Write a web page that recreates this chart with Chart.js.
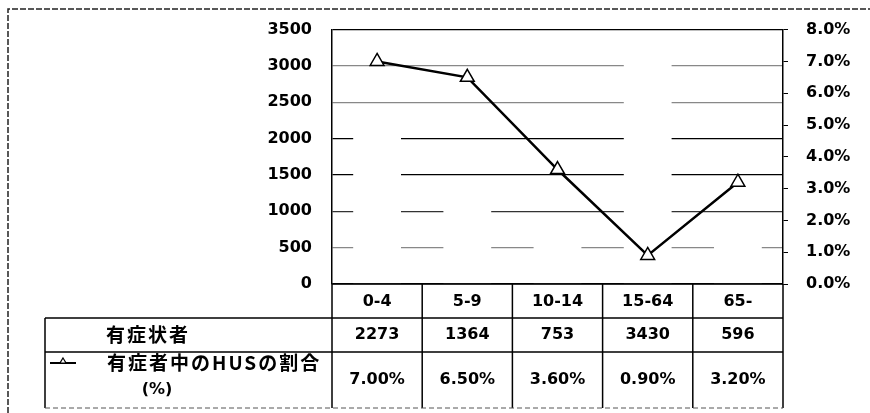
<!DOCTYPE html>
<html>
<head>
<meta charset="utf-8">
<script src="https://cdn.jsdelivr.net/npm/chart.js@4"></script>
<style>
  body { margin: 0; background: #fff; }
  #wrap { width: 870px; height: 413px; }
</style>
</head>
<body>
<div id="wrap"><canvas id="graphCanvas" width="870" height="413"></canvas></div>
<script>
// data
const ageGroups = ['0-4', '5-9', '10-14', '15-64', '65-'];
const patients = [2273, 1364, 753, 3430, 596];
const husRate = [0.07, 0.065, 0.036, 0.009, 0.032];
const patientLabel = '有症状者';
const rateLabel = '有症者中のHUSの割合';
const rateUnit = '(%)';

const numFont = { family: 'DejaVu Sans', size: 16, weight: 'bold' };
const cellFont = 'bold 16px "DejaVu Sans"';
const cjkFont = 'bold 19px "Noto Sans CJK JP"';

// grid colours vary a lot in the scan, keep roughly the same look
function gridColor(c) {
    let v = c.tick ? c.tick.value : 0;
    if (v === 3500 || v === 2000 || v === 1500 || v === 0) return '#000';
    if (v === 1000) return '#333';
    return '#888';
}

// data table under the plot + outer frame
const tablePlugin = {
    id: 'dataTable',
    afterDraw(chart) {
        let ctx = chart.ctx;
        let area = chart.chartArea;
        let xs = chart.scales.x;
        let left = area.left, right = area.right;
        let rowTop = area.bottom, row1 = 318, row2 = 352, rowBottom = 408;
        let labelLeft = 45;
        let step = (right - left) / ageGroups.length;

        ctx.save();
        ctx.strokeStyle = '#000';
        ctx.lineWidth = 1.5;

        ctx.beginPath();
        // horizontal lines
        ctx.moveTo(left, rowTop); ctx.lineTo(right, rowTop);
        ctx.moveTo(labelLeft, row1); ctx.lineTo(right, row1);
        ctx.moveTo(labelLeft, row2); ctx.lineTo(right, row2);
        // vertical lines
        ctx.moveTo(labelLeft, row1); ctx.lineTo(labelLeft, rowBottom);
        for (let i = 0; i <= ageGroups.length; i++) {
            let x = left + step * i;
            ctx.moveTo(x, rowTop); ctx.lineTo(x, rowBottom);
        }
        ctx.stroke();
        // bottom edge is faint in the scan
        ctx.save();
        ctx.strokeStyle = '#555';
        ctx.lineWidth = 1;
        ctx.setLineDash([5, 3]);
        ctx.beginPath();
        ctx.moveTo(labelLeft, rowBottom); ctx.lineTo(right, rowBottom);
        ctx.stroke();
        ctx.restore();

        // cell texts
        ctx.fillStyle = '#000';
        ctx.textAlign = 'center';
        ctx.textBaseline = 'middle';
        ctx.font = cellFont;
        ageGroups.forEach((g, i) => {
            let x = xs.getPixelForValue(i);
            ctx.fillText(g, x, (rowTop + row1) / 2 + 1);
            ctx.fillText(String(patients[i]), x, (row1 + row2) / 2);
            ctx.fillText((husRate[i] * 100).toFixed(2) + '%', x, (row2 + rowBottom) / 2);
        });

        // row labels
        ctx.font = cjkFont;
        ctx.letterSpacing = '2px';
        ctx.fillText(patientLabel, 148, (row1 + row2) / 2);
        ctx.textAlign = 'left';
        ctx.fillText(rateLabel, 107, 363);
        ctx.textAlign = 'center';
        ctx.letterSpacing = '0px';
        ctx.font = cellFont;
        ctx.fillText(rateUnit, 157, 390);

        // legend key: line with small triangle
        ctx.lineWidth = 2;
        ctx.beginPath();
        ctx.moveTo(50, 363); ctx.lineTo(76, 363);
        ctx.stroke();
        ctx.fillStyle = '#fff';
        ctx.lineWidth = 1.2;
        ctx.beginPath();
        ctx.moveTo(63, 358); ctx.lineTo(66, 363); ctx.lineTo(60, 363); ctx.closePath();
        ctx.fill(); ctx.stroke();

        // outer frame of the whole figure
        ctx.strokeStyle = '#222';
        ctx.lineWidth = 1.5;
        ctx.setLineDash([6, 2]);
        ctx.beginPath();
        ctx.moveTo(8, 413); ctx.lineTo(8, 9); ctx.lineTo(870, 9);
        ctx.stroke();
        ctx.restore();
    }
};

let ctx = document.getElementById('graphCanvas').getContext('2d');
let chart = new Chart(ctx, {
    data: {
        labels: ageGroups,
        datasets: [{
            type: 'line',
            label: rateLabel,
            data: husRate,
            yAxisID: 'y1',
            borderColor: '#000',
            borderWidth: 2.5,
            pointStyle: 'triangle',
            pointRadius: 8,
            pointBackgroundColor: '#fff',
            pointBorderColor: '#000',
            pointBorderWidth: 1.5,
            tension: 0,
            order: 0
        }, {
            type: 'bar',
            label: patientLabel,
            data: patients,
            yAxisID: 'y',
            backgroundColor: '#fff',
            borderWidth: 0,
            barPercentage: 0.53,
            categoryPercentage: 1,
            order: 1
        }]
    },
    options: {
        responsive: false,
        animation: false,
        layout: { padding: { left: 0, right: 0, top: 29, bottom: 129 } },
        plugins: {
            legend: { display: false },
            tooltip: { enabled: false }
        },
        scales: {
            x: { display: false, offset: true },
            y: {
                position: 'left',
                min: 0, max: 3500,
                ticks: {
                    stepSize: 500, color: '#000', font: numFont, padding: 20,
                    callback: v => String(v)
                },
                grid: { color: gridColor, lineWidth: 1.3, drawTicks: false },
                border: { display: true, color: '#000', width: 1.5 },
                afterFit(scale) { scale.width = 332; }
            },
            y1: {
                position: 'right',
                min: 0, max: 0.08,
                ticks: {
                    stepSize: 0.01, color: '#000', font: numFont, padding: 18,
                    callback: v => (v * 100).toFixed(1) + '%'
                },
                grid: { drawOnChartArea: false, color: '#000', tickLength: 5 },
                border: { display: true, color: '#000', width: 1.5 },
                afterFit(scale) { scale.width = 87; }
            }
        }
    },
    plugins: [tablePlugin]
});
</script>
</body>
</html>
